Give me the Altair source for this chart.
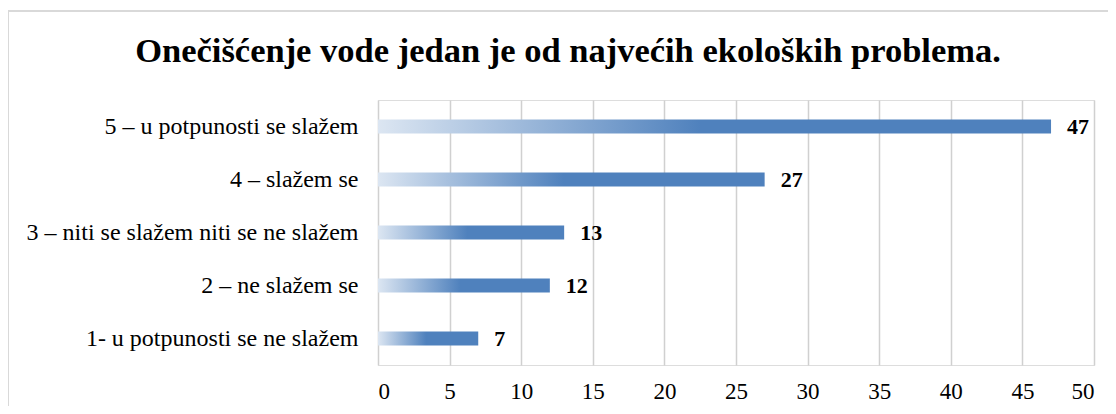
import altair as alt
import pandas as pd

categories = [
    "5 – u potpunosti se slažem",
    "4 – slažem se",
    "3 – niti se slažem niti se ne slažem",
    "2 – ne slažem se",
    "1- u potpunosti se ne slažem",
]
values = [47, 27, 13, 12, 7]
x_ticks = [0, 5, 10, 15, 20, 25, 30, 35, 40, 45, 50]
title_text = "Onečišćenje vode jedan je od najvećih ekoloških problema."

df = pd.DataFrame({"kategorija": categories, "broj": values})
df_title = pd.DataFrame({"naslov": [title_text]})

FONT = "Times New Roman, Liberation Serif, DejaVu Serif, serif"

grad = alt.LinearGradient(
    gradient="linear",
    stops=[
        alt.GradientStop(color="#dce6f2", offset=0),
        alt.GradientStop(color="#4f81bd", offset=0.48),
        alt.GradientStop(color="#4f81bd", offset=1),
    ],
    x1=0, x2=1, y1=0, y2=0,
)

y_enc = alt.Y(
    "kategorija:N",
    sort=categories,
    title=None,
    axis=alt.Axis(
        labelFont=FONT, labelFontSize=24, labelColor="#000000",
        labelPadding=20, ticks=False, domain=False, grid=False,
        labelLimit=400,
    ),
)

x_enc = alt.X(
    "broj:Q",
    title=None,
    scale=alt.Scale(domain=[0, 50], nice=False),
    axis=alt.Axis(
        values=x_ticks, labelFont=FONT, labelFontSize=23, labelColor="#000000",
        labelPadding=15, ticks=False, domain=False, grid=True,
        gridColor="#d0d0d0", gridWidth=1.5,
    ),
)

bars = alt.Chart(df).mark_bar(color=grad, size=14).encode(x=x_enc, y=y_enc)

labels = alt.Chart(df).mark_text(
    align="left", baseline="middle", dx=16, font=FONT, fontSize=22,
    fontWeight="bold", color="#000000",
).encode(x=alt.X("broj:Q"), y=alt.Y("kategorija:N", sort=categories), text="broj:Q")

frame = alt.Chart(df_title).mark_rect(
    fill=None, stroke="#d9d9d9", strokeWidth=2,
).encode(
    x=alt.value(-370), x2=alt.value(760), y=alt.value(-89), y2=alt.value(340),
)

title_mark = alt.Chart(df_title).mark_text(
    align="center", baseline="middle", font=FONT, fontSize=34.5,
    fontWeight="bold", color="#000000",
).encode(x=alt.value(190), y=alt.value(-48), text="naslov:N")

chart = (
    alt.layer(frame, bars, labels, title_mark)
    .properties(
        width=716,
        height=265,
        autosize=alt.AutoSizeParams(type="none"),
        padding={"left": 370, "top": 92, "right": 14, "bottom": 41},
    )
    .configure_view(stroke=None)
    .configure(background="#ffffff")
)

chart.save("out.html", embed_options={"renderer": "svg", "actions": False})
